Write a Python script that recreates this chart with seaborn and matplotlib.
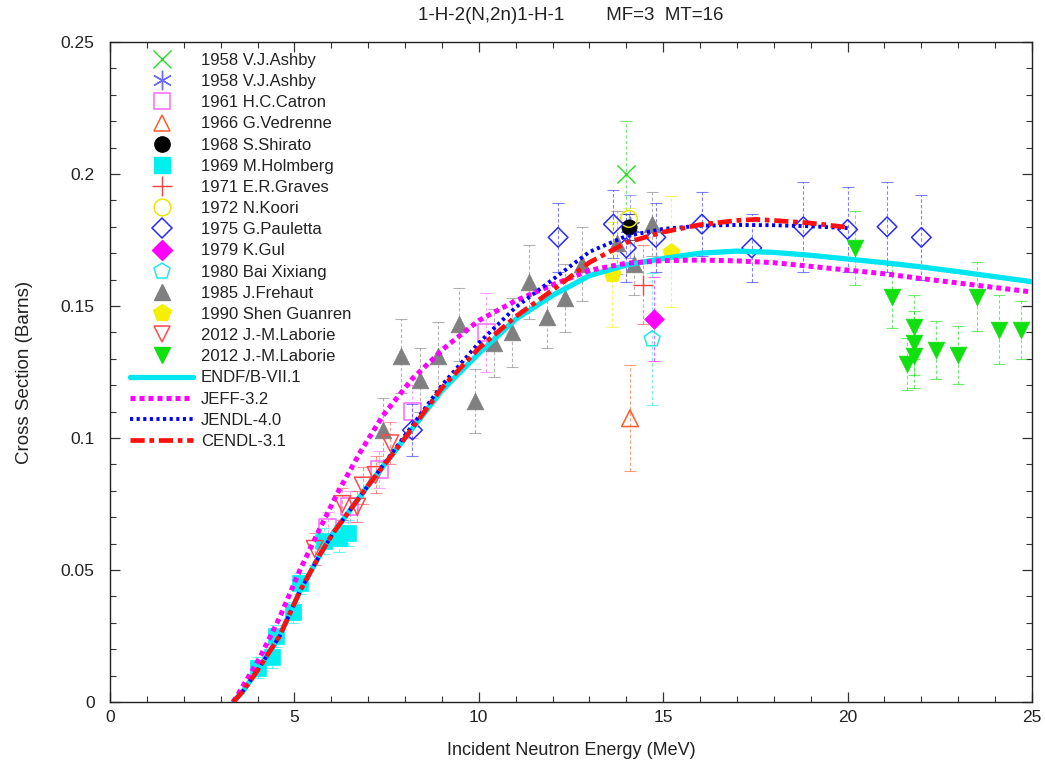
import numpy as np
import pandas as pd
import matplotlib
matplotlib.use("Agg")
import matplotlib.pyplot as plt
from matplotlib.lines import Line2D
from matplotlib.ticker import MultipleLocator, FixedLocator, FixedFormatter
import seaborn as sns

# ---------------- experimental data (E in MeV, sigma in barns) ----------------
ashby1_E = [14.0]
ashby1_s = [0.200]
ashby1_err = [0.020]

ashby2_E = [14.1]
ashby2_s = [0.180]
ashby2_err = [0.012]

catron_E = [5.9, 6.5, 7.3, 8.2, 10.2]
catron_s = [0.066, 0.074, 0.088, 0.110, 0.140]
catron_err = [0.006, 0.006, 0.007, 0.010, 0.015]

vedrenne_E = [14.1]
vedrenne_s = [0.1075]
vedrenne_err = [0.020]

shirato_E = [14.07]
shirato_s = [0.180]
shirato_err = [0.005]

holmberg_E = [4.0, 4.4, 4.5, 4.95, 5.15, 5.8, 6.2, 6.45]
holmberg_s = [0.013, 0.017, 0.025, 0.034, 0.045, 0.061, 0.062, 0.064]
holmberg_err = [0.004, 0.004, 0.004, 0.004, 0.004, 0.005, 0.005, 0.005]

graves_E = [14.45]
graves_s = [0.158]
graves_err = [0.015]

koori_E = [14.07]
koori_s = [0.183]
koori_err = [0.004]

pauletta_E = [8.2, 12.15, 13.65, 14.0, 14.8, 16.05, 17.4, 18.8, 20.0, 21.07, 22.0]
pauletta_s = [0.103, 0.176, 0.181, 0.172, 0.176, 0.181, 0.172, 0.180, 0.179, 0.180, 0.176]
pauletta_err = [0.010, 0.013, 0.013, 0.013, 0.013, 0.012, 0.013, 0.017, 0.016, 0.017, 0.016]

gul_E = [14.75]
gul_s = [0.145]
gul_err = [0.016]

bai_E = [14.7]
bai_s = [0.1375]
bai_err = [0.025]

frehaut_E = [7.4, 7.9, 8.4, 8.9, 9.45, 9.9, 10.4, 10.9, 11.35, 11.85, 12.35, 12.8, 13.75, 14.2, 14.7]
frehaut_s = [0.103, 0.131, 0.122, 0.131, 0.143, 0.114, 0.136, 0.140, 0.159, 0.146, 0.153, 0.166, 0.174, 0.166, 0.181]
frehaut_err = [0.012, 0.014, 0.012, 0.013, 0.014, 0.012, 0.013, 0.013, 0.014, 0.012, 0.013, 0.014, 0.012, 0.012, 0.012]

shen_E = [13.6, 15.2]
shen_s = [0.162, 0.1705]
shen_err = [0.020, 0.021]

laborie1_E = [5.55, 6.3, 6.7, 6.85, 7.2, 7.6]
laborie1_s = [0.058, 0.075, 0.074, 0.082, 0.086, 0.098]
laborie1_err = [0.006, 0.006, 0.006, 0.007, 0.007, 0.008]

laborie2_E = [20.2, 21.2, 21.8, 21.8, 21.8, 21.6, 22.4, 23.0, 23.5, 24.1, 24.7]
laborie2_s = [0.172, 0.1535, 0.142, 0.136, 0.131, 0.128, 0.1335, 0.1315, 0.1535, 0.141, 0.141]
laborie2_err = [0.014, 0.012, 0.012, 0.012, 0.012, 0.010, 0.011, 0.011, 0.013, 0.013, 0.011]

# ---------------- evaluated data ----------------
endf_E = [3.34, 3.6, 4.0, 4.6, 5.15, 5.7, 6.05, 7.0, 8.0, 9.0, 10.0, 11.0, 12.0, 13.0, 14.0,
          15.0, 16.0, 17.0, 18.0, 19.0, 20.0, 21.0, 22.0, 23.0, 24.0, 25.0]
endf_s = [0.0, 0.004, 0.012, 0.025, 0.042, 0.056, 0.064, 0.082, 0.100, 0.118, 0.132, 0.145, 0.154,
          0.1615, 0.1655, 0.168, 0.1700, 0.1708, 0.1703, 0.1692, 0.1678, 0.1664, 0.1648, 0.1630,
          0.1611, 0.1592]

jeff_E = [3.34, 3.52, 4.07, 4.6, 5.15, 5.7, 6.2, 6.8, 7.4, 8.2, 9.1, 10.0, 11.0, 12.0, 13.0, 14.0,
          15.0, 16.0, 17.0, 18.0, 19.0, 20.0, 21.0, 22.0, 23.0, 24.0, 25.0]
jeff_s = [0.0, 0.004, 0.017, 0.032, 0.050, 0.066, 0.080, 0.095, 0.1085, 0.1225, 0.1345, 0.1445,
          0.152, 0.158, 0.1635, 0.1662, 0.1672, 0.1674, 0.1671, 0.1664, 0.1650, 0.1636, 0.1622,
          0.1604, 0.1587, 0.1570, 0.1553]

jendl_E = [3.34, 3.6, 4.0, 4.6, 5.15, 5.7, 6.05, 7.0, 8.0, 9.0, 10.0, 11.0, 12.0, 13.0, 14.0,
           15.0, 16.0, 17.0, 18.0, 19.0, 20.0]
jendl_s = [0.0, 0.004, 0.012, 0.025, 0.042, 0.056, 0.064, 0.082, 0.101, 0.120, 0.136, 0.1495,
           0.160, 0.1705, 0.1765, 0.1792, 0.1804, 0.1807, 0.1806, 0.1802, 0.1795]

cendl_E = [3.34, 3.6, 4.0, 4.6, 5.15, 5.7, 6.05, 7.0, 8.0, 9.0, 10.0, 11.0, 12.0, 13.0, 14.0,
           15.0, 16.0, 17.0, 17.5, 18.0, 19.0, 20.0]
cendl_s = [0.0, 0.004, 0.012, 0.025, 0.042, 0.056, 0.064, 0.082, 0.100, 0.119, 0.134, 0.146,
           0.156, 0.1665, 0.1740, 0.1780, 0.1808, 0.1824, 0.1828, 0.1824, 0.1814, 0.1798]

title_text = "1-H-2(N,2n)1-H-1        MF=3  MT=16"
x_label = "Incident Neutron Energy (MeV)"
y_label = "Cross Section (Barns)"
x_ticks = [0, 5, 10, 15, 20, 25]
x_ticklabels = ["0", "5", "10", "15", "20", "25"]
y_ticks = [0, 0.05, 0.1, 0.15, 0.2, 0.25]
y_ticklabels = ["0", "0.05", "0.1", "0.15", "0.2", "0.25"]

# ---------------- styling ----------------
sns.set_style("ticks")
plt.rcParams["font.family"] = ["Liberation Sans", "DejaVu Sans"]

W, H = 1046, 765
fig = plt.figure(figsize=(W / 100, H / 100), dpi=100)
ax = fig.add_axes([110 / W, 1 - 702 / H, (1032 - 110) / W, (702 - 42) / H])

experiments = [
    ("1958 V.J.Ashby", ashby1_E, ashby1_s, ashby1_err, dict(marker="x", color="#22dd22", filled=False, ms=13)),
    ("1958 V.J.Ashby", ashby2_E, ashby2_s, ashby2_err, dict(marker=(6, 2, 0), color="#6a6aff", filled=False, ms=14)),
    ("1961 H.C.Catron", catron_E, catron_s, catron_err, dict(marker="s", color="#ff66ff", filled=False, ms=12)),
    ("1966 G.Vedrenne", vedrenne_E, vedrenne_s, vedrenne_err, dict(marker="^", color="#ff5a28", filled=False, ms=12)),
    ("1968 S.Shirato", shirato_E, shirato_s, shirato_err, dict(marker="o", color="#000000", filled=True, ms=11)),
    ("1969 M.Holmberg", holmberg_E, holmberg_s, holmberg_err, dict(marker="s", color="#00f0f0", filled=True, ms=11)),
    ("1971 E.R.Graves", graves_E, graves_s, graves_err, dict(marker="+", color="#ff4040", filled=False, ms=14)),
    ("1972 N.Koori", koori_E, koori_s, koori_err, dict(marker="o", color="#e8e800", filled=False, ms=12)),
    ("1975 G.Pauletta", pauletta_E, pauletta_s, pauletta_err, dict(marker="D", color="#2a2aff", filled=False, ms=10)),
    ("1979 K.Gul", gul_E, gul_s, gul_err, dict(marker="D", color="#ff00ff", filled=True, ms=10)),
    ("1980 Bai Xixiang", bai_E, bai_s, bai_err, dict(marker="p", color="#22e8f0", filled=False, ms=12)),
    ("1985 J.Frehaut", frehaut_E, frehaut_s, frehaut_err, dict(marker="^", color="#808080", filled=True, ms=12)),
    ("1990 Shen Guanren", shen_E, shen_s, shen_err, dict(marker="p", color="#f5f000", filled=True, ms=13)),
    ("2012 J.-M.Laborie", laborie1_E, laborie1_s, laborie1_err, dict(marker="v", color="#ff4a4a", filled=False, ms=12)),
    ("2012 J.-M.Laborie", laborie2_E, laborie2_s, laborie2_err, dict(marker="v", color="#10e010", filled=True, ms=12)),
]

handles = []
labels = []
for label, E, s, err, st in experiments:
    col = st["color"]
    eb = ax.errorbar(E, s, yerr=err, fmt="none", ecolor=col, elinewidth=0.8,
                     capsize=4, capthick=0.8, alpha=0.6, zorder=2)
    for lc in eb[2]:
        lc.set_linestyle((0, (3, 2)))
    df = pd.DataFrame({"E": E, "s": s})
    ms = st["ms"]
    if st["marker"] in ("x", "+") or isinstance(st["marker"], tuple):
        sns.scatterplot(data=df, x="E", y="s", ax=ax, marker=st["marker"], s=ms ** 2,
                        color=col, linewidth=1.0, legend=False, zorder=3)
        h = Line2D([], [], linestyle="none", marker=st["marker"], color=col,
                   markersize=ms, markeredgewidth=1.0)
    elif st["filled"]:
        sns.scatterplot(data=df, x="E", y="s", ax=ax, marker=st["marker"], s=ms ** 2,
                        color=col, edgecolor=col, linewidth=0.5, legend=False, zorder=3)
        h = Line2D([], [], linestyle="none", marker=st["marker"], color=col,
                   markerfacecolor=col, markeredgecolor=col, markersize=ms)
    else:
        sns.scatterplot(data=df, x="E", y="s", ax=ax, marker=st["marker"], s=ms ** 2,
                        facecolor="none", edgecolor=col, linewidth=1.1, legend=False, zorder=3)
        h = Line2D([], [], linestyle="none", marker=st["marker"], markerfacecolor="none",
                   markeredgecolor=col, markersize=ms, markeredgewidth=1.1)
    handles.append(h)
    labels.append(label)

evals = [
    ("ENDF/B-VII.1", endf_E, endf_s, dict(color="#00e5f0", lw=3.8, ls="-")),
    ("JEFF-3.2", jeff_E, jeff_s, dict(color="#ff00ff", lw=3.6, ls=(0, (1, 0.8)))),
    ("JENDL-4.0", jendl_E, jendl_s, dict(color="#0000ff", lw=2.8, ls=(0, (0.8, 0.9)))),
    ("CENDL-3.1", cendl_E, cendl_s, dict(color="#ff1010", lw=3.4, ls=(0, (3, 1, 1, 1)))),
]
for label, E, s, st in evals:
    df = pd.DataFrame({"E": E, "s": s})
    sns.lineplot(data=df, x="E", y="s", ax=ax, color=st["color"], linewidth=st["lw"],
                 sort=False, legend=False, zorder=4)
    line = ax.lines[-1]
    line.set_linestyle(st["ls"])
    line.set_dash_capstyle("butt")
    h = Line2D([], [], color=st["color"], linewidth=st["lw"], linestyle=st["ls"])
    handles.append(h)
    labels.append(label)

ax.set_xlim(0, 25)
ax.set_ylim(0, 0.25)
ax.xaxis.set_major_locator(FixedLocator(x_ticks))
ax.xaxis.set_major_formatter(FixedFormatter(x_ticklabels))
ax.yaxis.set_major_locator(FixedLocator(y_ticks))
ax.yaxis.set_major_formatter(FixedFormatter(y_ticklabels))
ax.xaxis.set_minor_locator(MultipleLocator(1))
ax.yaxis.set_minor_locator(MultipleLocator(0.01))
ax.tick_params(which="both", direction="in", top=True, right=True, labelsize=12.5,
               colors="#333333", labelcolor="#222222")
ax.tick_params(which="major", length=7, width=0.9)
ax.tick_params(which="minor", length=4, width=0.8)
ax.tick_params(axis="x", pad=6)
ax.tick_params(axis="y", pad=11)
for sp in ax.spines.values():
    sp.set_linewidth(1.0)
    sp.set_color("#222222")

ax.set_xlabel(x_label, fontsize=13, labelpad=12, color="#222222")
ax.set_ylabel(y_label, fontsize=13.5, labelpad=20, color="#222222")
fig.text(571 / W, 1 - 15 / H, title_text, ha="center", va="center", fontsize=13.5,
         color="#222222")

leg = ax.legend(handles, labels, loc="upper left",
                bbox_to_anchor=((130 - 110) / 922, 1 - (53 - 42) / 660),
                frameon=False, fontsize=12, handlelength=3.8, handletextpad=0.45,
                labelspacing=0.37, borderaxespad=0.0, borderpad=0.0)
for t in leg.get_texts():
    t.set_color("#222222")

fig.savefig("out.png", dpi=100)
